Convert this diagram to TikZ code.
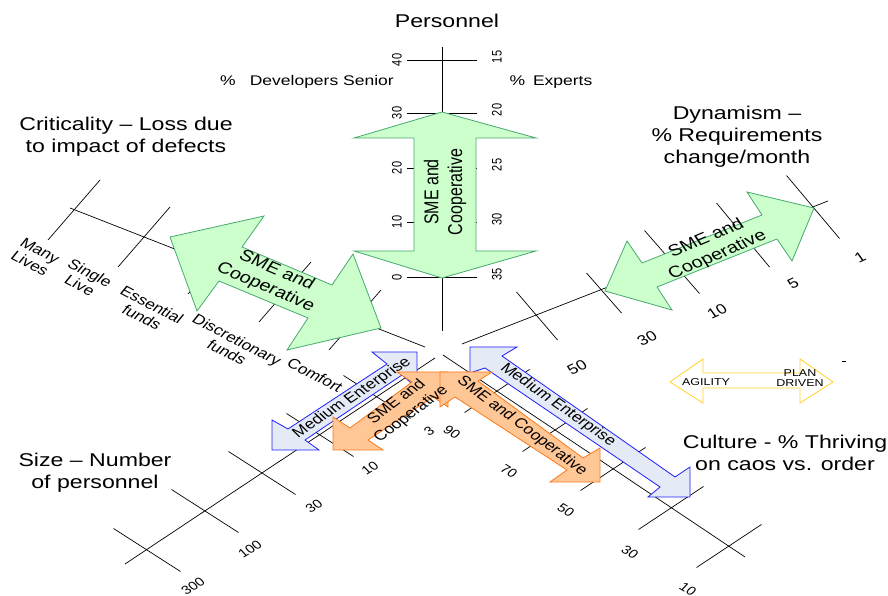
\documentclass[tikz,border=0pt]{standalone}
\usepackage{fontspec}
\setmainfont{Liberation Sans}
\definecolor{smefill}{RGB}{204,255,204}
\definecolor{smeline}{RGB}{70,170,110}
\definecolor{medfill}{RGB}{228,234,246}
\definecolor{medline}{RGB}{30,30,250}
\definecolor{orfill}{RGB}{255,198,150}
\definecolor{orline}{RGB}{255,120,20}
\definecolor{agline}{RGB}{255,210,40}

\begin{document}
\begin{tikzpicture}[
  x=0.8pt, y=-1pt, xscale=1.25,
  every node/.append style={transform shape, inner sep=0pt},
  axis/.style={line width=0.7pt},
  title/.style={font=\fontsize{18.5}{22}\selectfont, align=center},
  sub/.style={font=\fontsize{14}{16}\selectfont},
  num/.style={font=\fontsize{11}{12}\selectfont},
  lbl/.style={font=\fontsize{14}{15}\selectfont, align=center, rotate=-33},
  smearrow/.style={draw=smeline, fill=smefill, line width=0.8pt},
  medarrow/.style={draw=medline, fill=medfill, line width=0.8pt},
  orarrow/.style={draw=orline, fill=orfill, line width=0.8pt},
  agarrow/.style={draw=agline, fill=white, line width=0.8pt},
  bigtxt/.style={font=\fontsize{16}{19}\selectfont, align=center},
  smalltxt/.style={font=\fontsize{14}{17}\selectfont, align=center}
]
\useasboundingbox (0,0) rectangle (888,596);

% Axes
\draw[axis] (442,47) -- (442,331);
\draw[axis] (70,208) -- (425,347);
\draw[axis] (462,344) -- (828,201);
\draw[axis] (435,358) -- (125,564);
\draw[axis] (443,355) -- (745,557);

% Personnel scale
\foreach \yy/\a/\b in {60/40/15, 113/30/20, 168/20/25, 222/10/30, 277/0/35}{
  \draw[axis] (407,\yy) -- (477,\yy);
  \node[num, rotate=90] (sen\a) at (397,\yy) {\a};
  \node[num, rotate=90] (exp\b) at (497,\yy-3) {\b};
}
% Criticality scale
\foreach \xx/\yy in {74/210, 144/237, 214/264, 285/292, 355/320}
  \draw[axis] (\xx,\yy) +(-26,30) -- +(26,-30);
% Dynamism scale
\foreach \xx/\yy/\dx/\dy in {537/316/20.5/24, 604/293/17.5/20, 672/262/27.5/31.5, 743/235/26.5/32, 813/207/26.5/31.5}
  \draw[axis] (\xx,\yy) +(-\dx,-\dy) -- +(\dx,\dy);
% Size scale
\foreach \xx/\yy in {147/550, 205/511, 262/473, 320/435, 377/397}
  \draw[axis] (\xx,\yy) +(-33.5,-21.5) -- +(33.5,21.5);
% Culture scale
\foreach \xx/\yy in {497/391, 555/430, 613/469, 671/508, 729/546}
  \draw[axis] (\xx,\yy) +(-32.5,21.5) -- +(32.5,-21.5);

% Scale labels
\foreach \xx/\yy/\t in {193/586/300, 250/549/100, 314/506/30, 370/468/10, 429/431/3}
  \node[num, font=\fontsize{12}{13}\selectfont, rotate=37] (siz\t) at (\xx,\yy) {\t};
\foreach \xx/\yy/\t in {452/432/90, 509/471/70, 566/510/50, 630/552/30, 688/589/10}
  \node[num, font=\fontsize{12}{13}\selectfont, rotate=-37] (cul\t) at (\xx,\yy) {\t};
\foreach \xx/\yy/\t in {577/367/50, 647/338/30, 717/311/10, 793/283/5, 860/257/1}
  \node[num, font=\fontsize{14}{15}\selectfont, rotate=30] (dyn\t) at (\xx,\yy) {\t};
\node[lbl] (many) at (35,257) {Many\\Lives};
\node[lbl] (single) at (85,279) {Single\\Live};
\node[lbl] (essential) at (147,311) {Essential\\funds};
\node[lbl] (discr) at (232,346) {Discretionary\\funds};
\node[lbl] (comfort) at (315,375) {Comfort};

% Titles
\node[title] (personnel) at (447,21) {Personnel};
\node[sub] (senior) at (307,82) {\%\hspace{0.8em}Developers Senior};
\node[sub] (experts) at (551,82) {\%\hspace{0.45em}Experts};
\node[title] (crit) at (126,137) {Criticality -- Loss due\\to impact of defects};
\node[title] (dyn) at (737,137) {Dynamism --\\\% Requirements\\change/month};
\node[title] (size) at (95,473) {Size -- Number\\of personnel};
\node[title] (cult) at (785,453) {Culture - \% Thriving\\on caos vs. order};

% SME and Cooperative (green)
\draw[smearrow] (442,112) -- (536,138) -- (476,138) -- (476,251) -- (536,251) -- (442,278)
  -- (354,251) -- (414,251) -- (414,138) -- (354,138) -- cycle;
\draw[smearrow] (170,237) -- (264,216) -- (242,247) -- (332,285) -- (353,254) -- (381,328)
  -- (287,350) -- (308,318) -- (219,281) -- (197,311) -- cycle;
\draw[smearrow] (605,291) -- (627,241) -- (642,263) -- (762,215) -- (747,192) -- (814,208)
  -- (792,261) -- (777,239) -- (657,287) -- (672,310) -- cycle;
\node[bigtxt, rotate=90] (smepers) at (445,192) {SME and\\Cooperative};
\node[bigtxt, rotate=-28] (smecrit) at (271,279) {SME and\\Cooperative};
\node[bigtxt, rotate=28] (smedyn) at (712,247) {SME and\\Cooperative};

% Medium Enterprise (blue)
\draw[medarrow] (417,352) -- (372,352) -- (387,364) -- (288,429) -- (272,420) -- (272,450)
  -- (319,450) -- (305,440) -- (402,375) -- (417,388) -- cycle;
\draw[medarrow] (470,347) -- (517,347) -- (502,356) -- (675,477) -- (690,467) -- (690,497)
  -- (648,497) -- (660,487) -- (485,368) -- (470,373) -- cycle;
\node[smalltxt, rotate=39.5] (medleft) at (352,398) {Medium Enterprise};
\node[smalltxt, rotate=-41] (medright) at (558,405) {Medium Enterprise};

% SME and Cooperative (orange)
\draw[orarrow] (448,372) -- (448,407) -- (433,397) -- (368,440) -- (383,450) -- (333,450)
  -- (333,417) -- (350,428) -- (412,382) -- (397,372) -- cycle;
\draw[orarrow] (440,372) -- (492,372) -- (478,381) -- (583,458) -- (600,448) -- (600,482)
  -- (550,482) -- (567,470) -- (455,397) -- (440,407) -- cycle;
\node[smalltxt, rotate=43] (smeleft) at (404,408) {SME and\\Cooperative};
\node[smalltxt, rotate=-43] (smeright) at (522,426) {SME and Cooperative};

% Legend
\draw[agarrow] (670,382) -- (703,359) -- (703,373) -- (800,373) -- (800,359) -- (833,382)
  -- (800,403) -- (800,388) -- (703,388) -- (703,403) -- cycle;
\node[font=\fontsize{10}{9.5}\selectfont] (agility) at (706,382) {AGILITY};
\node[font=\fontsize{10}{9.5}\selectfont, align=center] (plan) at (800,378) {PLAN\\DRIVEN};
\draw[axis] (842,361) -- (846,361);

\end{tikzpicture}
\end{document}
